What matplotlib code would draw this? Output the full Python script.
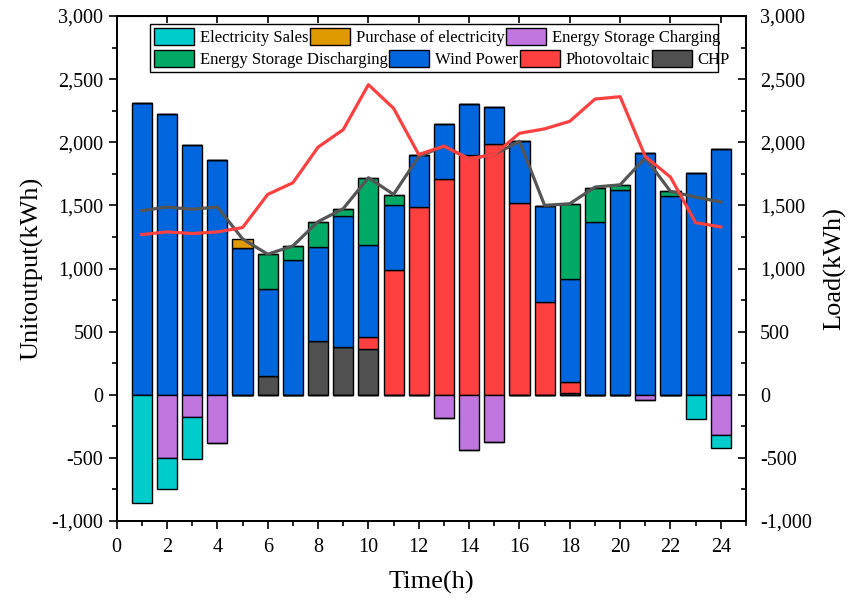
import matplotlib.pyplot as plt
import numpy as np
from matplotlib.patches import Rectangle
from matplotlib.ticker import MultipleLocator, FuncFormatter

plt.close('all')
plt.rcParams['font.family'] = ['Liberation Serif', 'DejaVu Serif']

# hourly dispatch (kWh)
hours = np.arange(1, 25)
chp = [0, 0, 0, 0, 0, 145, 0, 429, 382, 361, 0, 0,
       0, 0, 0, 0, 0, 13, 0, 0, 0, 0, 0, 0]
pv = [0, 0, 0, 0, 0, 0, 0, 0, 0, 94, 992, 1490,
      1708, 1903, 1984, 1521, 732, 92, 0, 0, 0, 0, 0, 0]
wind = [2311, 2227, 1977, 1861, 1166, 692, 1066, 742, 1037, 729, 508, 410,
        437, 400, 295, 487, 766, 808, 1371, 1621, 1916, 1577, 1758, 1948]
discharge = [0, 0, 0, 0, 0, 274, 110, 200, 52, 532, 84, 0,
             0, 0, 0, 0, 0, 600, 263, 42, 0, 36, 0, 0]
purchase = [0, 0, 0, 0, 66, 0, 0, 0, 0, 0, 0, 0,
            0, 0, 0, 0, 0, 0, 0, 0, 0, 0, 0, 0]
charging = [0, 500, 176, 379, 0, 0, 0, 0, 0, 0, 0, 0,
            182, 434, 374, 0, 0, 0, 0, 0, 39, 0, 0, 316]
sales = [855, 245, 329, 0, 0, 0, 0, 0, 0, 0, 0, 0,
         0, 0, 0, 0, 0, 0, 0, 0, 0, 0, 192, 105]

# load curves (right axis)
load_red = [1269, 1290, 1277, 1290, 1324, 1587, 1679, 1961, 2100, 2456, 2269, 1903,
            1969, 1869, 1903, 2071, 2106, 2166, 2342, 2361, 1887, 1724, 1363, 1329]
load_grey = [1458, 1487, 1469, 1487, 1235, 1113, 1179, 1371, 1474, 1719, 1587, 1887,
             1969, 1869, 1903, 2008, 1500, 1513, 1645, 1663, 1877, 1611, 1566, 1527]

c_sales = '#00CCCC'
c_buy = '#DE9A00'
c_chg = '#C076DE'
c_dis = '#00AA64'
c_wind = '#0066DD'
c_pv = '#FF4040'
c_chp = '#505050'

fig = plt.figure(figsize=(8.48, 6.04), dpi=100)
ax = fig.add_axes([0.1376, 0.1374, 0.7421, 0.8361])

w = 0.8
kw = dict(width=w, edgecolor='black', linewidth=1.0)

# positive stack
chp_a = np.array(chp)
pv_a = np.array(pv)
wind_a = np.array(wind)
dis_a = np.array(discharge)
b_chp = ax.bar(hours, chp_a, color=c_chp, **kw)
b_pv = ax.bar(hours, pv_a, bottom=chp_a, color=c_pv, **kw)
b_wind = ax.bar(hours, wind_a, bottom=chp_a + pv_a, color=c_wind, **kw)
b_dis = ax.bar(hours, dis_a, bottom=chp_a + pv_a + wind_a, color=c_dis, **kw)
b_buy = ax.bar(hours, purchase, bottom=chp_a + pv_a + wind_a + dis_a, color=c_buy, **kw)

# negative stack
chg_a = -np.array(charging)
b_chg = ax.bar(hours, chg_a, color=c_chg, **kw)
b_sales = ax.bar(hours, -np.array(sales), bottom=chg_a, color=c_sales, **kw)

ax.set_xlim(0, 25)
ax.set_ylim(-1000, 3000)
ax.xaxis.set_major_locator(MultipleLocator(2))
ax.xaxis.set_minor_locator(MultipleLocator(1))
ax.yaxis.set_major_locator(MultipleLocator(500))
ax.yaxis.set_minor_locator(MultipleLocator(250))
fmt = FuncFormatter(lambda v, p: f'{int(v):,}')
ax.yaxis.set_major_formatter(fmt)
ax.tick_params(axis='both', which='major', direction='out', length=6, width=1.2, labelsize=14.5)
ax.tick_params(axis='both', which='minor', direction='out', length=3.5, width=1.2)
ax.tick_params(axis='x', which='major', pad=6)
ax.set_xlabel('Time(h)', fontsize=19, labelpad=10)
ax.set_ylabel('Unitoutput(kWh)', fontsize=19, labelpad=6)
for s in ax.spines.values():
    s.set_linewidth(1.3)

# top ticks
axt = ax.secondary_xaxis('top')
axt.xaxis.set_major_locator(MultipleLocator(2))
axt.tick_params(direction='in', length=5, width=1.2, labeltop=False)

# load on right axis
ax2 = ax.twinx()
ax2.plot(hours, load_grey, color='#555555', linewidth=2.3, zorder=3)
ax2.plot(hours, load_red, color='#FF4040', linewidth=2.3, zorder=4)
ax2.set_ylim(-1000, 3000)
ax2.yaxis.set_major_locator(MultipleLocator(500))
ax2.yaxis.set_minor_locator(MultipleLocator(250))
ax2.yaxis.set_major_formatter(fmt)
ax2.tick_params(axis='y', which='major', direction='in', length=6, width=1.2, labelsize=14.5, pad=10)
ax2.tick_params(axis='y', which='minor', direction='in', length=3.5, width=1.2)
ax2.set_ylabel('Load(kWh)', fontsize=19, labelpad=8)
for s in ax2.spines.values():
    s.set_linewidth(1.3)

# legend: two rows inside one frame
lkw = dict(frameon=False, fontsize=12, handlelength=2.4, handleheight=1.15,
           handletextpad=0.35, columnspacing=0.1, borderpad=0, borderaxespad=0)
leg1 = ax.legend([b_sales, b_buy, b_chg],
                 ['Electricity Sales', 'Purchase of electricity', 'Energy Storage Charging'],
                 ncol=3, loc='upper left', bbox_to_anchor=(154 / 848, 1 - 28 / 604),
                 bbox_transform=fig.transFigure, **lkw)
ax.add_artist(leg1)
leg2 = ax.legend([b_dis, b_wind, b_pv, b_chp],
                 ['Energy Storage Discharging', 'Wind Power', 'Photovoltaic', 'CHP'],
                 ncol=4, loc='upper left', bbox_to_anchor=(154 / 848, 1 - 50 / 604),
                 bbox_transform=fig.transFigure, **lkw)
frame = Rectangle((150 / 848, 1 - 72 / 604), 568 / 848, 48 / 604, transform=fig.transFigure,
                  facecolor='white', edgecolor='black', linewidth=1.0, zorder=5)
ax.add_patch(frame)
frame.set_clip_on(False)
leg1.set_zorder(6)
leg2.set_zorder(6)

plt.savefig('out.png', dpi=100)
